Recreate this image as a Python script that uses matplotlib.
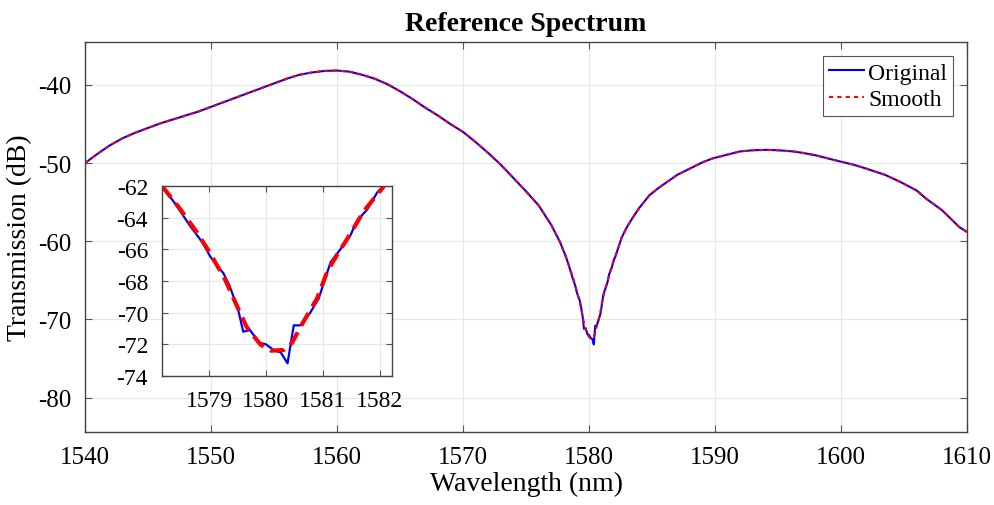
import matplotlib
matplotlib.use("Agg")
import matplotlib.pyplot as plt
import numpy as np

plt.rcParams["font.family"] = ["Liberation Serif", "DejaVu Serif"]
plt.rcParams["axes.unicode_minus"] = False

# main curve, outside the dip
wl_left = [1540, 1541, 1542, 1543, 1544, 1545, 1546, 1547, 1548, 1549, 1550,
           1551, 1552, 1553, 1554, 1555, 1556, 1557, 1558, 1559, 1560, 1561,
           1562, 1563, 1564, 1565, 1566, 1567, 1568, 1569, 1570, 1571, 1572,
           1573, 1574, 1575, 1576, 1577, 1577.7]
tr_left = [-50.0, -48.8, -47.7, -46.8, -46.1, -45.5, -44.9, -44.4, -43.9, -43.4, -42.8,
           -42.2, -41.6, -41.0, -40.4, -39.8, -39.2, -38.7, -38.4, -38.2, -38.15, -38.3,
           -38.7, -39.2, -39.9, -40.8, -41.8, -42.9, -43.9, -45.0, -46.0, -47.3, -48.7,
           -50.2, -51.9, -53.6, -55.4, -57.9, -60.1]

wl_right = [1582.6, 1583.0, 1583.5, 1584.0, 1584.8, 1585.5, 1586.2, 1587.0, 1588.0,
            1589.0, 1589.8, 1591.0, 1592.0, 1593.0, 1594.1, 1595.0, 1596.2, 1597.0,
            1598.0, 1599.7, 1601.0, 1602.0, 1603.5, 1604.7, 1606.0, 1606.8, 1608.0,
            1609.4, 1610.0]
tr_right = [-59.5, -58.2, -56.9, -55.7, -54.1, -53.2, -52.4, -51.5, -50.7,
            -49.9, -49.4, -48.9, -48.5, -48.35, -48.3, -48.35, -48.5, -48.7,
            -49.0, -49.7, -50.2, -50.7, -51.5, -52.4, -53.5, -54.6, -56.0,
            -58.2, -58.8]

# dip region, raw data
wl_dip = [1578.17, 1578.42, 1578.66, 1578.89, 1579.01, 1579.13, 1579.25, 1579.36,
          1579.51, 1579.60, 1579.72, 1579.88, 1580.00, 1580.15, 1580.26, 1580.38,
          1580.49, 1580.61, 1580.78, 1580.93, 1581.02, 1581.14, 1581.31, 1581.49,
          1581.60, 1581.78, 1581.96, 1582.08]
tr_dip = [-62.0, -63.2, -64.5, -65.6, -66.4, -67.0, -67.5, -68.3,
          -69.8, -71.2, -71.1, -71.9, -72.0, -72.4, -72.5, -73.2,
          -70.8, -70.8, -70.0, -69.1, -68.1, -66.8, -66.0, -65.1,
          -64.2, -63.5, -62.4, -62.0]

# dip region, smoothed
wl_dip_s = [1578.17, 1578.5, 1578.78, 1579.01, 1579.28, 1579.48, 1579.66, 1579.9,
            1580.09, 1580.32, 1580.46, 1580.64, 1580.9, 1581.08, 1581.26, 1581.49,
            1581.72, 1582.08]
tr_dip_s = [-62.0, -63.5, -64.9, -66.2, -67.9, -69.5, -70.9, -72.0,
            -72.4, -72.35, -71.9, -70.7, -69.1, -67.4, -66.3, -65.0,
            -63.6, -62.0]

wl_orig = wl_left + wl_dip + wl_right
tr_orig = tr_left + tr_dip + tr_right
wl_smooth = wl_left + wl_dip_s + wl_right
tr_smooth = tr_left + tr_dip_s + tr_right

fig = plt.figure(figsize=(9.95, 5.06), dpi=100)
ax = fig.add_axes([0.0854, 0.1443, 0.8865, 0.7707])

ax.plot(wl_orig, tr_orig, color="blue", lw=1.5, label="Original")
ax.plot(wl_smooth, tr_smooth, color="red", lw=1.5, ls=(0, (2, 2)), label="Smooth")

ax.set_xlim(1540, 1610)
ax.set_ylim(-84.4, -34.5)
ax.set_xticks(np.arange(1540, 1611, 10))
ax.set_yticks([-80, -70, -60, -50, -40])
ax.tick_params(direction="in", top=True, right=True, labelsize=18, length=5,
               color="#555555", pad=10)
ax.grid(True, color="#e6e6e6", lw=0.8)
for s in ax.spines.values():
    s.set_color("#444444")
    s.set_linewidth(1.0)

ax.set_xlabel("Wavelength (nm)", fontsize=20, labelpad=2)
ax.set_ylabel("Transmission (dB)", fontsize=20, labelpad=4)
ax.set_title("Reference Spectrum", fontsize=20, fontweight="bold", pad=9)

leg = ax.legend(loc="upper right", fontsize=17, fancybox=False, framealpha=1,
                edgecolor="#555555", handlelength=1.5, handletextpad=0.15,
                borderpad=0.25, labelspacing=0.2, borderaxespad=0.6)
leg.get_frame().set_linewidth(0.8)

# inset
axin = fig.add_axes([0.1628, 0.2549, 0.2312, 0.3755])
axin.plot(wl_dip, tr_dip, color="blue", lw=1.6)
axin.plot(wl_dip_s, tr_dip_s, color="red", lw=3, ls=(0, (3.5, 1.8)))
axin.set_xlim(1578.17, 1582.22)
axin.set_ylim(-74, -62)
axin.set_xticks([1579, 1580, 1581, 1582])
axin.set_yticks(np.arange(-74, -61, 2))
axin.tick_params(direction="in", top=True, right=True, labelsize=17, length=4,
                 color="#555555", pad=10)
axin.grid(True, color="#e6e6e6", lw=0.8)
for s in axin.spines.values():
    s.set_color("#444444")
    s.set_linewidth(1.0)

fig.savefig("out.png", dpi=100)
